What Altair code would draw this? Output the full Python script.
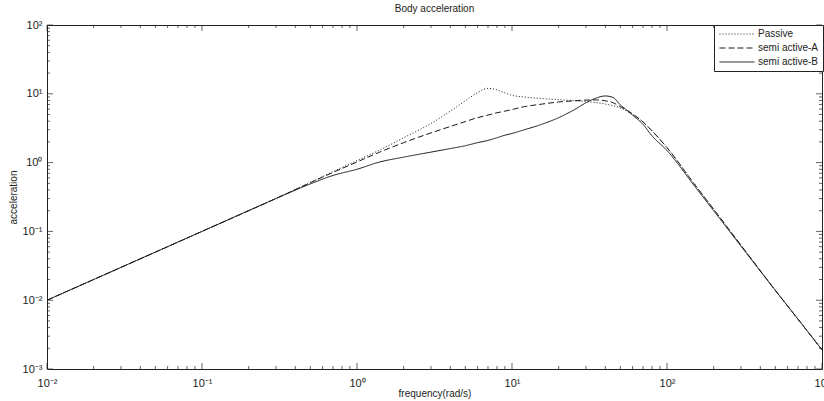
import altair as alt
import pandas as pd

# ---------------- data ----------------
series_names = ["Passive", "semi active-A", "semi active-B"]

freq = [0.01, 0.1, 0.3, 0.5, 0.7, 1, 1.4, 2, 3, 4, 5, 6, 7, 8, 9, 10, 12, 15,
        20, 25, 30, 35, 40, 45, 50, 55, 60, 70, 80, 100, 150, 200, 300, 500, 700, 1000]

passive = [0.01, 0.1, 0.302, 0.515, 0.74, 1.07, 1.52, 2.3, 3.7, 5.6, 7.9, 10.4, 12.0, 11.4,
           10.3, 9.5, 9.0, 8.6, 8.2, 7.95, 7.7, 7.45, 7.1, 6.7, 6.2, 5.6, 5.0, 3.9, 2.9,
           1.65, 0.49, 0.21, 0.063, 0.0139, 0.0053, 0.0019]

semi_a = [0.01, 0.1, 0.301, 0.51, 0.72, 1.02, 1.42, 1.95, 2.7, 3.35, 3.95, 4.5, 4.9, 5.3,
          5.6, 5.9, 6.5, 7.0, 7.6, 7.9, 8.1, 8.15, 7.9, 7.4, 6.5, 5.8, 5.1, 3.9, 2.9,
          1.65, 0.49, 0.21, 0.063, 0.0139, 0.0053, 0.0019]

semi_b = [0.01, 0.1, 0.3, 0.49, 0.65, 0.8, 1.02, 1.2, 1.42, 1.6, 1.76, 1.95, 2.1, 2.3,
          2.5, 2.65, 3.0, 3.5, 4.5, 5.8, 7.4, 8.7, 9.3, 8.8, 6.9, 5.8, 4.9, 3.6, 2.45,
          1.5, 0.46, 0.2, 0.061, 0.0139, 0.0053, 0.0019]

x_domain = [0.01, 1000]
y_domain = [0.001, 100]
x_major = [0.01, 0.1, 1, 10, 100, 1000]
x_minor = [m * 10.0 ** k for k in range(-2, 3) for m in range(2, 10)]
y_major = [0.001, 0.01, 0.1, 1, 10, 100]
y_minor = [m * 10.0 ** k for k in range(-3, 2) for m in range(2, 10)]

rows = []
for name, vals in zip(series_names, [passive, semi_a, semi_b]):
    for f, v in zip(freq, vals):
        rows.append({"freq": f, "acc": v, "series": name})
df = pd.DataFrame(rows)

# ---------------- styling ----------------
FONT = "Liberation Sans"
TXT = "#222222"
LINE = "#1a1a1a"
MAJOR_LEN = 6
MINOR_LEN = 3
label_expr = ("'10' + ['\u207b\u00b3','\u207b\u00b2','\u207b\u00b9','\u2070','\u00b9','\u00b2','\u00b3']"
              "[round(log(datum.value)/LN10)+3]")

xscale = alt.Scale(type="log", domain=x_domain, nice=False)
yscale = alt.Scale(type="log", domain=y_domain, nice=False)

x_axis = alt.Axis(orient="bottom", values=x_major, labelExpr=label_expr, ticks=False,
                  domain=False, grid=False, title="frequency(rad/s)",
                  labelFont=FONT, labelFontSize=11, labelColor=TXT, labelPadding=8,
                  labelFlush=False, labelOverlap=False,
                  titleFont=FONT, titleFontSize=10, titleFontWeight="normal",
                  titleColor=TXT, titlePadding=0)
y_axis = alt.Axis(orient="left", values=y_major, labelExpr=label_expr, ticks=False,
                  domain=False, grid=False, title="acceleration",
                  labelFont=FONT, labelFontSize=11, labelColor=TXT, labelPadding=5,
                  labelFlush=False, labelOverlap=False,
                  titleFont=FONT, titleFontSize=10, titleFontWeight="normal",
                  titleColor=TXT, titlePadding=4)


def x_enc():
    return alt.X("freq:Q", scale=xscale, axis=x_axis)


def y_enc():
    return alt.Y("acc:Q", scale=yscale, axis=y_axis)


# long horizontal legend sample drawn from a small symbol (keeps legend rows compact)
LEGEND_SYMBOL = "M-1,0H9"

lines = alt.Chart(df).mark_line(color=LINE, strokeWidth=1, interpolate="monotone").encode(
    x=x_enc(),
    y=y_enc(),
    strokeDash=alt.StrokeDash(
        "series:N",
        scale=alt.Scale(domain=series_names, range=[[1, 2], [6, 3], [1, 0]]),
        legend=alt.Legend(title=None, orient="none", legendX=667, legendY=0,
                          symbolType=LEGEND_SYMBOL, symbolSize=49, symbolStrokeWidth=1,
                          symbolStrokeColor=LINE, symbolFillColor="transparent",
                          labelFont=FONT, labelFontSize=10,
                          labelColor=TXT, labelOffset=30, strokeColor="#222222",
                          fillColor="white", padding=4, rowPadding=4)),
)


# inward frame ticks: short tick marks centred on a frame edge (a domain end),
# shifted inwards by half their length so that they point into the plot
def vertical_ticks(values, edge, length, direction):
    table = pd.DataFrame({"freq": values, "acc": [edge] * len(values)})
    return alt.Chart(table).mark_tick(orient="vertical", size=length, thickness=1,
                                      color=TXT, yOffset=direction * length / 2).encode(
        x=x_enc(), y=y_enc())


def horizontal_ticks(values, edge, length, direction):
    table = pd.DataFrame({"freq": [edge] * len(values), "acc": values})
    return alt.Chart(table).mark_tick(orient="horizontal", size=length, thickness=1,
                                      color=TXT, xOffset=direction * length / 2).encode(
        x=x_enc(), y=y_enc())


tick_layers = [
    vertical_ticks(x_major, y_domain[0], MAJOR_LEN, -1),
    vertical_ticks(x_minor, y_domain[0], MINOR_LEN, -1),
    vertical_ticks(x_major, y_domain[1], MAJOR_LEN, 1),
    vertical_ticks(x_minor, y_domain[1], MINOR_LEN, 1),
    horizontal_ticks(y_major, x_domain[0], MAJOR_LEN, 1),
    horizontal_ticks(y_minor, x_domain[0], MINOR_LEN, 1),
    horizontal_ticks(y_major, x_domain[1], MAJOR_LEN, -1),
    horizontal_ticks(y_minor, x_domain[1], MINOR_LEN, -1),
]

chart = alt.layer(
    lines, *tick_layers,
).properties(
    width=775, height=344,
    title=alt.Title("Body acceleration", font=FONT, fontSize=10, fontWeight="normal",
                    color=TXT, offset=5),
    autosize=alt.AutoSizeParams(type="none"),
    padding={"left": 47, "top": 25, "right": 2, "bottom": 32},
    background="white",
).configure_view(stroke="#222222", strokeWidth=1)

chart.save("out.html", embed_options={"renderer": "svg", "actions": False})
